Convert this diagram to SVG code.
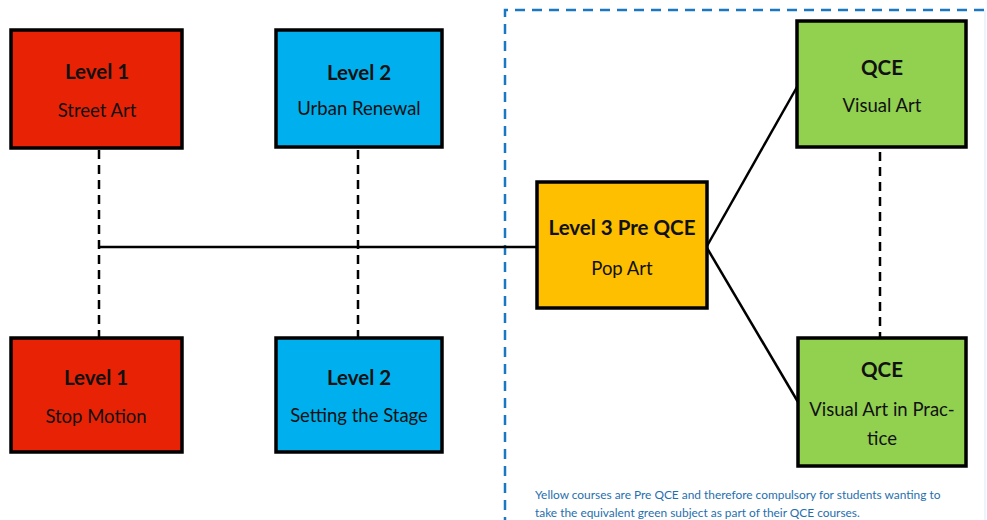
<svg xmlns="http://www.w3.org/2000/svg" width="987" height="520" viewBox="0 0 987 520">
<style>
  .box { stroke: #000; stroke-width: 3.5; }
  .red { fill: #e82205; }
  .blue { fill: #00b0ee; }
  .yellow { fill: #fdbf00; }
  .green { fill: #92d050; }
  .title { font-family: Lato, "Open Sans", "Liberation Sans", sans-serif; font-weight: bold; font-size: 20.5px; fill: #111; text-anchor: middle; }
  .sub { font-family: Lato, "Open Sans", "Liberation Sans", sans-serif; font-size: 18.5px; fill: #111; text-anchor: middle; }
  .solid { stroke: #000; stroke-width: 2.5; fill: none; }
  .dash { stroke: #000; stroke-width: 2.5; fill: none; stroke-dasharray: 9 6; }
  .frame { stroke: #1a78c2; stroke-width: 2.5; fill: none; stroke-dasharray: 10 7; }
  .note { font-family: Lato, "Open Sans", "Liberation Sans", sans-serif; font-size: 11.9px; fill: #1f6fae; }
</style>
<rect width="987" height="520" fill="#fff"/>
<g id="frame">
  <path class="frame" d="M984 10 H505 V520"/>
  <line x1="985" y1="10" x2="985" y2="520" stroke="#e6f2fa" stroke-width="1.5"/>
</g>
<g id="connectors">
  <line class="dash" x1="99" y1="150" x2="99" y2="337"/>
  <line class="dash" x1="358" y1="150" x2="358" y2="337"/>
  <line class="solid" x1="99" y1="247" x2="537" y2="247"/>
  <line class="solid" x1="707" y1="246" x2="797" y2="87"/>
  <line class="solid" x1="707" y1="248" x2="798" y2="402"/>
  <line class="dash" x1="880" y1="152" x2="880" y2="337"/>
</g>
<g id="street-art">
  <rect class="box red" x="11" y="30" width="171" height="118"/>
  <text class="title" x="97" y="79">Level 1</text>
  <text class="sub" x="97" y="117">Street Art</text>
</g>
<g id="urban-renewal">
  <rect class="box blue" x="276" y="30" width="166" height="117"/>
  <text class="title" x="359" y="80">Level 2</text>
  <text class="sub" x="359" y="115">Urban Renewal</text>
</g>
<g id="stop-motion">
  <rect class="box red" x="11" y="338" width="171" height="114"/>
  <text class="title" x="96" y="385">Level 1</text>
  <text class="sub" x="96" y="423">Stop Motion</text>
</g>
<g id="setting-the-stage">
  <rect class="box blue" x="276" y="338" width="166" height="114"/>
  <text class="title" x="359" y="385">Level 2</text>
  <text class="sub" x="359" y="422">Setting the Stage</text>
</g>
<g id="pop-art">
  <rect class="box yellow" x="537" y="182" width="170" height="126"/>
  <text class="title" x="622" y="235">Level 3 Pre QCE</text>
  <text class="sub" x="622" y="275">Pop Art</text>
</g>
<g id="visual-art">
  <rect class="box green" x="797" y="21" width="169" height="126"/>
  <text class="title" x="882" y="75">QCE</text>
  <text class="sub" x="882" y="112">Visual Art</text>
</g>
<g id="visual-art-in-practice">
  <rect class="box green" x="798" y="338" width="168" height="128"/>
  <text class="title" x="882" y="377">QCE</text>
  <text class="sub" x="882" y="416">Visual Art in Prac-</text>
  <text class="sub" x="882" y="445">tice</text>
</g>
<g id="note">
  <text class="note" x="535" y="499">Yellow courses are Pre QCE and therefore compulsory for students wanting to</text>
  <text class="note" x="535" y="517">take the equivalent green subject as part of their QCE courses.</text>
</g>
</svg>
